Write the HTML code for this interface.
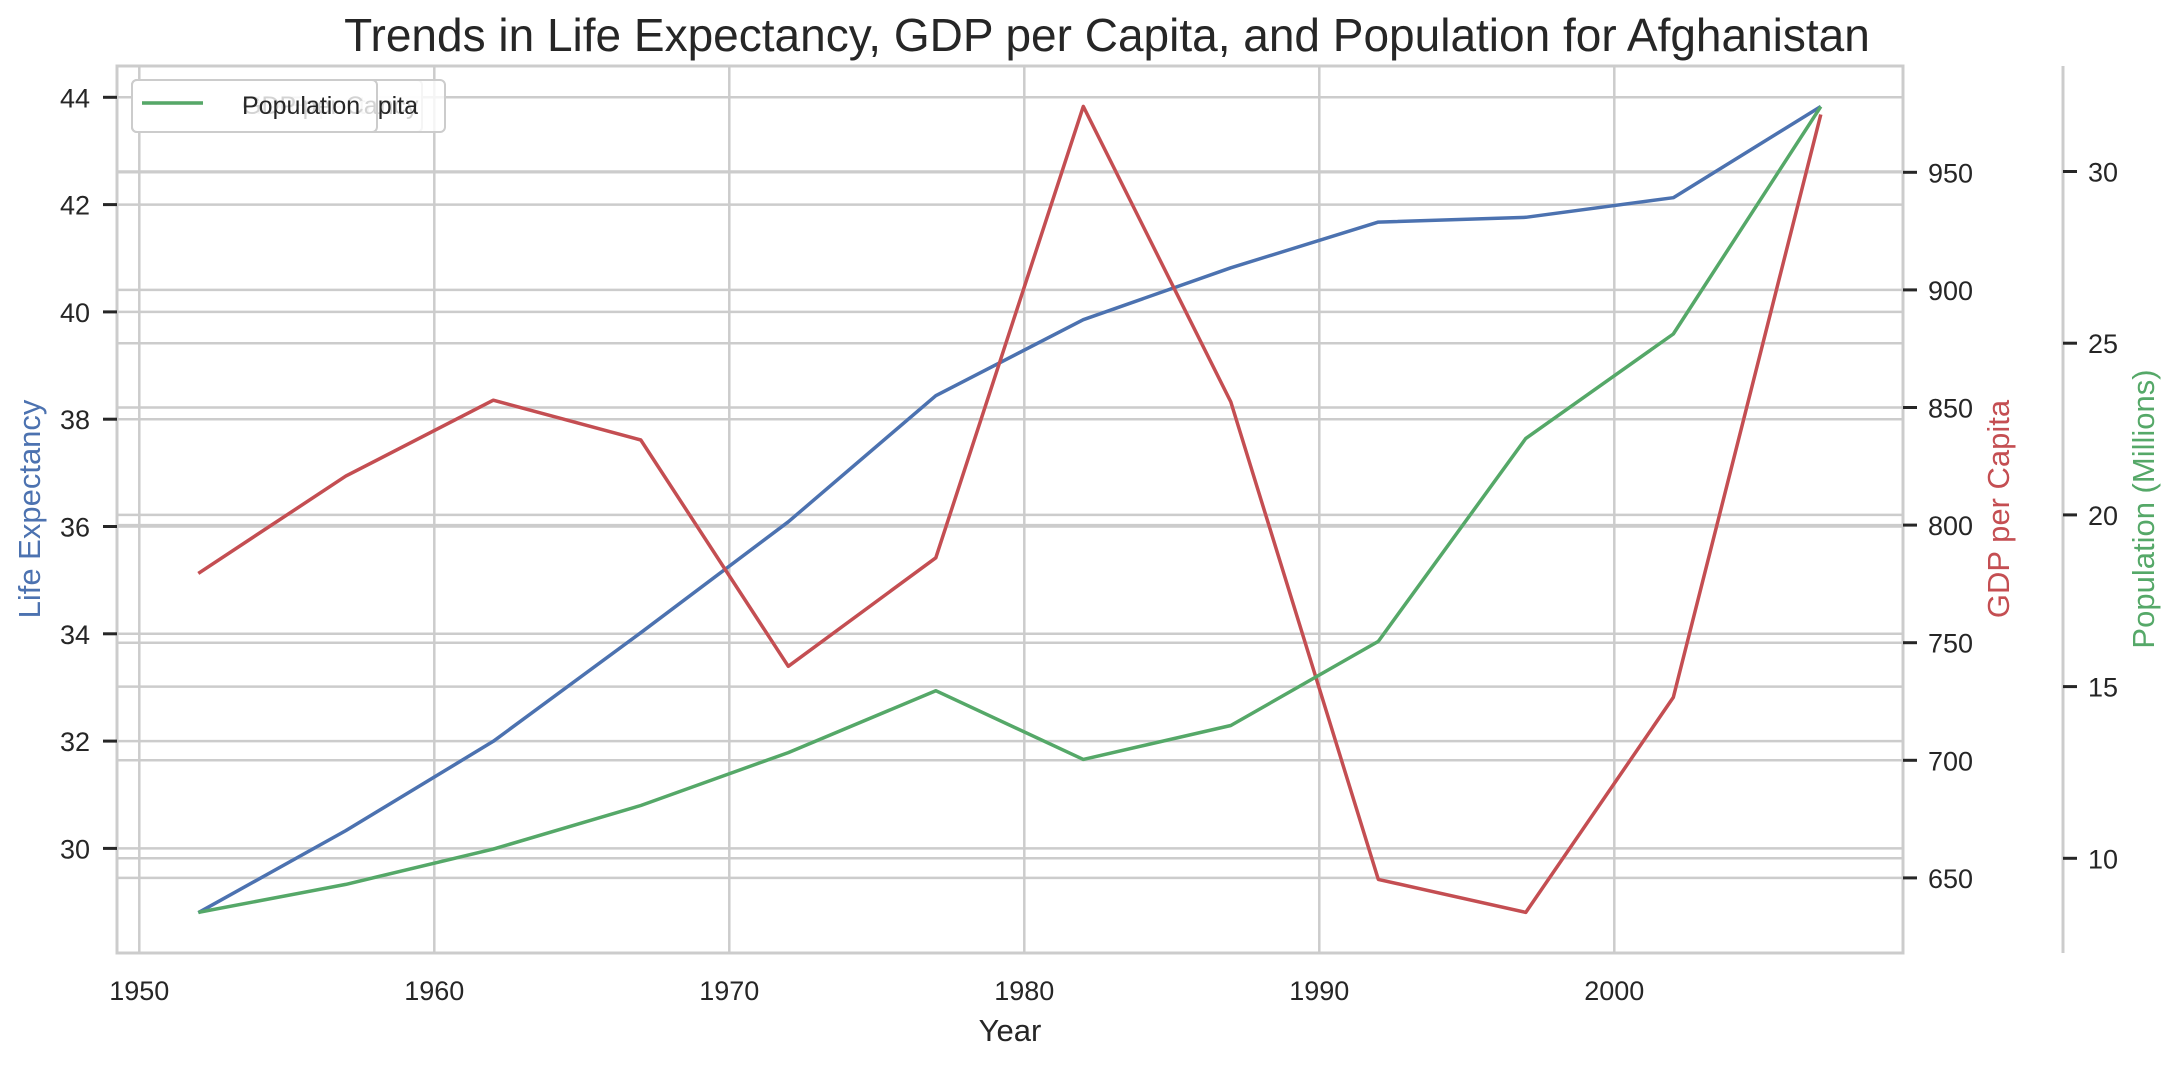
<!DOCTYPE html>
<html><head><meta charset="utf-8"><style>
html,body{margin:0;padding:0;background:#fff;}
svg{display:block;font-family:"Liberation Sans",Arial,sans-serif;}
</style></head><body>
<svg id="chart" width="2179" height="1065" viewBox="0 0 2179 1065"></svg>
<script>
const years=[1952,1957,1962,1967,1972,1977,1982,1987,1992,1997,2002,2007];
const lifeExp=[28.801,30.332,31.997,34.02,36.088,38.438,39.854,40.822,41.674,41.763,42.129,43.828];
const gdp=[779.445,820.853,853.101,836.197,739.981,786.113,978.011,852.396,649.341,635.341,726.734,974.580];
const pop=[8.425,9.241,10.267,11.538,13.079,14.880,12.881,13.867,16.317,22.227,25.268,31.890];
const xTicks=[1950,1960,1970,1980,1990,2000];
const lifeTicks=[30,32,34,36,38,40,42,44];
const gdpTicks=[650,700,750,800,850,900,950];
const popTicks=[10,15,20,25,30];

const L=117,R=1903,T=66,B=953,P3=2063;
const X=v=>139.3+(v-1950)*29.5;
const Y1=v=>97.3+(44-v)*53.65;
const Y2=v=>172.3+(950-v)*2.352;
const Y3=v=>171.5+(30-v)*34.34;
const svg=document.getElementById('chart');
const NS='http://www.w3.org/2000/svg';
function mk(tag,attrs,parent){const e=document.createElementNS(NS,tag);for(const k in attrs)e.setAttribute(k,attrs[k]);(parent||svg).appendChild(e);return e;}
function txt(s,attrs){const e=mk('text',attrs);e.textContent=s;return e;}

xTicks.forEach(v=>{const g=mk('line',{x1:X(v),x2:X(v),y1:T,y2:B,stroke:'#cccccc','stroke-width':2.5});

});
[[lifeTicks,Y1],[gdpTicks,Y2],[popTicks,Y3]].forEach(([ticks,f])=>ticks.forEach(v=>{const g=mk('line',{x1:L,x2:R,y1:f(v),y2:f(v),stroke:'#cccccc','stroke-width':2.5});

}));

const sp=mk('rect',{x:L,y:T,width:R-L,height:B-T,fill:'none',stroke:'#cccccc','stroke-width':3});


const sp3=mk('line',{x1:P3,x2:P3,y1:T,y2:B,stroke:'#cccccc','stroke-width':3});



xTicks.forEach(v=>{const t=txt(String(v),{x:X(v),y:1000,'font-size':27,'text-anchor':'middle',fill:'#262626'});

});
lifeTicks.forEach(v=>{mk('line',{x1:L-14,x2:L,y1:Y1(v),y2:Y1(v),stroke:'#262626','stroke-width':3});
const t=txt(String(v),{x:90,y:Y1(v)+10,'font-size':27,'text-anchor':'end',fill:'#262626'});

});
gdpTicks.forEach(v=>{mk('line',{x1:R,x2:R+14,y1:Y2(v),y2:Y2(v),stroke:'#262626','stroke-width':3});
const t=txt(String(v),{x:1928,y:Y2(v)+10,'font-size':27,fill:'#262626'});

});
popTicks.forEach(v=>{mk('line',{x1:P3,x2:P3+14,y1:Y3(v),y2:Y3(v),stroke:'#262626','stroke-width':3});
const t=txt(String(v),{x:2088,y:Y3(v)+10,'font-size':27,fill:'#262626'});

});

function line(vals,f,color,name){const d=vals.map((v,i)=>(i?'L':'M')+X(years[i]).toFixed(1)+','+f(v).toFixed(1)).join(' ');
const p=mk('path',{d:d,fill:'none',stroke:color,'stroke-width':3.5,'stroke-linejoin':'round'});

}
line(lifeExp,Y1,'#4c72b0','life-expectancy-line');
line(gdp,Y2,'#c44e52','gdp-line');
line(pop,Y3,'#55a868','population-line');

const tt=txt('Trends in Life Expectancy, GDP per Capita, and Population for Afghanistan',{x:1107,y:51,'font-size':46,'text-anchor':'middle',fill:'#262626'});


const xl=txt('Year',{x:1010,y:1041,'font-size':31,'text-anchor':'middle',fill:'#262626'});


const yl=txt('Life Expectancy',{x:0,y:0,'font-size':31,'text-anchor':'middle',fill:'#4c72b0',transform:'translate(40,509) rotate(-90)'});


const y2l=txt('GDP per Capita',{x:0,y:0,'font-size':31,'text-anchor':'middle',fill:'#c44e52',transform:'translate(2009,509) rotate(-90)'});


const y3l=txt('Population (Millions)',{x:0,y:0,'font-size':31,'text-anchor':'middle',fill:'#55a868',transform:'translate(2154,509) rotate(-90)'});



function legend(label,color,w,name){const g=mk('g',{});


mk('rect',{x:132,y:80,width:w,height:52,rx:5,fill:'#ffffff','fill-opacity':0.8,stroke:'#cccccc','stroke-width':2},g);
mk('line',{x1:142,x2:203,y1:103,y2:103,stroke:color,'stroke-width':3.5},g);
const t=mk('text',{x:242,y:114,'font-size':25,fill:'#262626'},g);t.textContent=label;}
legend('Life Expectancy','#4c72b0',290,'legend-life-expectancy');
legend('GDP per Capita','#c44e52',313,'legend-gdp');
legend('Population','#55a868',245,'legend-population');
</script>
</body></html>
